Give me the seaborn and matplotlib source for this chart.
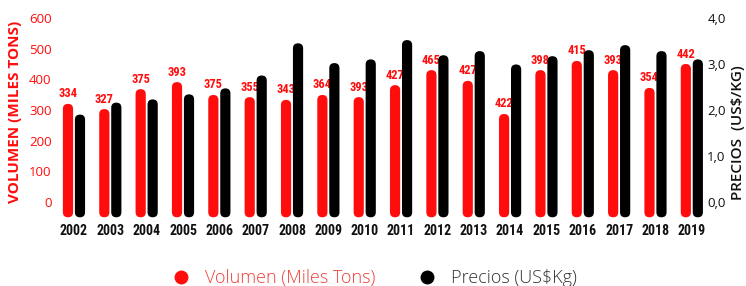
import numpy as np
import pandas as pd
import matplotlib
matplotlib.use("Agg")
import matplotlib.pyplot as plt
from matplotlib.patches import FancyBboxPatch, Rectangle
from matplotlib.lines import Line2D
import seaborn as sns

# ---------------- data ----------------
years = [str(y) for y in range(2002, 2020)]
volumen = [320, 303, 368, 391, 349, 342, 333, 349, 342, 381, 430, 395, 287, 430, 460, 430, 372, 450]
volumen_labels = ["334", "327", "375", "393", "375", "355", "343", "364", "393", "427",
                  "465", "427", "422", "398", "415", "393", "354", "442"]
precios = [1.90, 2.16, 2.23, 2.34, 2.47, 2.75, 3.45, 3.02, 3.10, 3.52, 3.19, 3.28,
           2.99, 3.17, 3.30, 3.41, 3.28, 3.10]
left_ticks = [0, 100, 200, 300, 400, 500, 600]
right_ticks = [0, 1, 2, 3, 4]
right_tick_labels = ["0,0", "1,0", "2,0", "3,0", "4,0"]
series = ["Volumen (Miles Tons)", "Precios (US$Kg)"]

RED = "#ff0d0d"
BLACK = "#000000"

sns.set_theme(style="white")
plt.rcParams["font.family"] = ["Open Sans", "DejaVu Sans"]
NARROW = ["Liberation Sans Narrow", "Roboto Condensed", "Roboto", "DejaVu Sans"]

nan = [np.nan] * len(years)
df_vol = pd.DataFrame({"year": years * 2, "val": volumen + nan,
                       "serie": [series[0]] * len(years) + [series[1]] * len(years)})
df_pre = pd.DataFrame({"year": years * 2, "val": nan + precios,
                       "serie": [series[0]] * len(years) + [series[1]] * len(years)})

fig = plt.figure(figsize=(7.46, 2.86), dpi=100)
ax1 = fig.add_axes([55.8 / 746, 1 - 217.3 / 286, (710 - 55.8) / 746, (217.3 - 18) / 286])
ax2 = ax1.twinx()

palette = {series[0]: RED, series[1]: BLACK}
sns.barplot(data=df_vol, x="year", y="val", hue="serie", hue_order=series,
            palette=palette, width=0.66, gap=0.15, dodge=True, ax=ax1, legend=False,
            order=years, saturation=1)
sns.barplot(data=df_pre, x="year", y="val", hue="serie", hue_order=series,
            palette=palette, width=0.66, gap=0.15, dodge=True, ax=ax2, legend=False,
            order=years, saturation=1)

ax1.set_ylim(-50, 600)
ax2.set_ylim(-50 / 150, 4)
ax1.set_xlim(-0.5, len(years) - 0.5)

# rounded bars
fig.canvas.draw()
for ax in (ax1, ax2):
    t = ax.transData
    p0 = t.transform((0, 0))
    p1 = t.transform((1, 1))
    px_x = abs(p1[0] - p0[0])
    px_y = abs(p1[1] - p0[1])
    aspect = px_x / px_y
    y0 = ax.get_ylim()[0]
    for p in list(ax.patches):
        if not isinstance(p, Rectangle):
            continue
        h = p.get_height()
        if not np.isfinite(h) or h == 0:
            p.remove()
            continue
        x, w = p.get_x(), p.get_width()
        top = p.get_y() + h
        fb = FancyBboxPatch((x, y0), w, top - y0,
                            boxstyle=f"round,pad=0,rounding_size={w / 2}",
                            mutation_aspect=aspect,
                            facecolor=p.get_facecolor(), edgecolor="none",
                            clip_on=False)
        p.remove()
        ax.add_patch(fb)

# value labels
for i, (v, lab) in enumerate(zip(volumen, volumen_labels)):
    ax1.annotate(lab, (i - 0.165, v), xytext=(0, 2.5), textcoords="offset points",
                 ha="center", va="bottom", color=RED, fontsize=9,
                 fontweight="bold", family=NARROW)

for ax in (ax1, ax2):
    for s in ax.spines.values():
        s.set_visible(False)
    ax.grid(False)
    ax.set_xlabel("")

ax1.set_yticks(left_ticks)
ax1.set_yticklabels([str(t) for t in left_ticks])
ax1.tick_params(axis="y", length=0, pad=3, labelsize=9.5, labelcolor=RED)
ax2.set_yticks(right_ticks)
ax2.set_yticklabels(right_tick_labels)
ax2.tick_params(axis="y", length=0, pad=-2, labelsize=9.5, labelcolor="#111111")
ax1.tick_params(axis="x", length=0, pad=5)
for lbl in ax1.get_xticklabels():
    lbl.set_family(NARROW)
    lbl.set_fontweight("bold")
    lbl.set_fontsize(10)
    lbl.set_color("#111111")
ax2.set_xlabel("")
ax2.tick_params(axis="x", length=0, labelbottom=False)

ax1.set_ylabel("VOLUMEN (MILES TONS)", color=RED, fontsize=11, fontweight="bold")
ax1.yaxis.set_label_coords(-0.052, 0.53)
ax2.set_ylabel("")
fig.text(738 / 746, 1 - 133 / 286, "PRECIOS  (US$/KG)", rotation=90, ha="center",
         va="center", fontsize=11, fontweight="semibold", color="#111111")

handles = [Line2D([], [], marker="o", ls="", color=RED, markersize=9),
           Line2D([], [], marker="o", ls="", color=BLACK, markersize=9)]
leg = fig.legend(handles, series, loc="center", bbox_to_anchor=(0.502, 8 / 286),
                 ncol=2, frameon=False, handlelength=1.0,
                 handletextpad=0.8, columnspacing=2.4,
                 prop={"size": 13, "weight": "light"})
leg.get_texts()[0].set_color("#f0403a")
leg.get_texts()[1].set_color("#333333")

fig.savefig("out.png", dpi=100)
